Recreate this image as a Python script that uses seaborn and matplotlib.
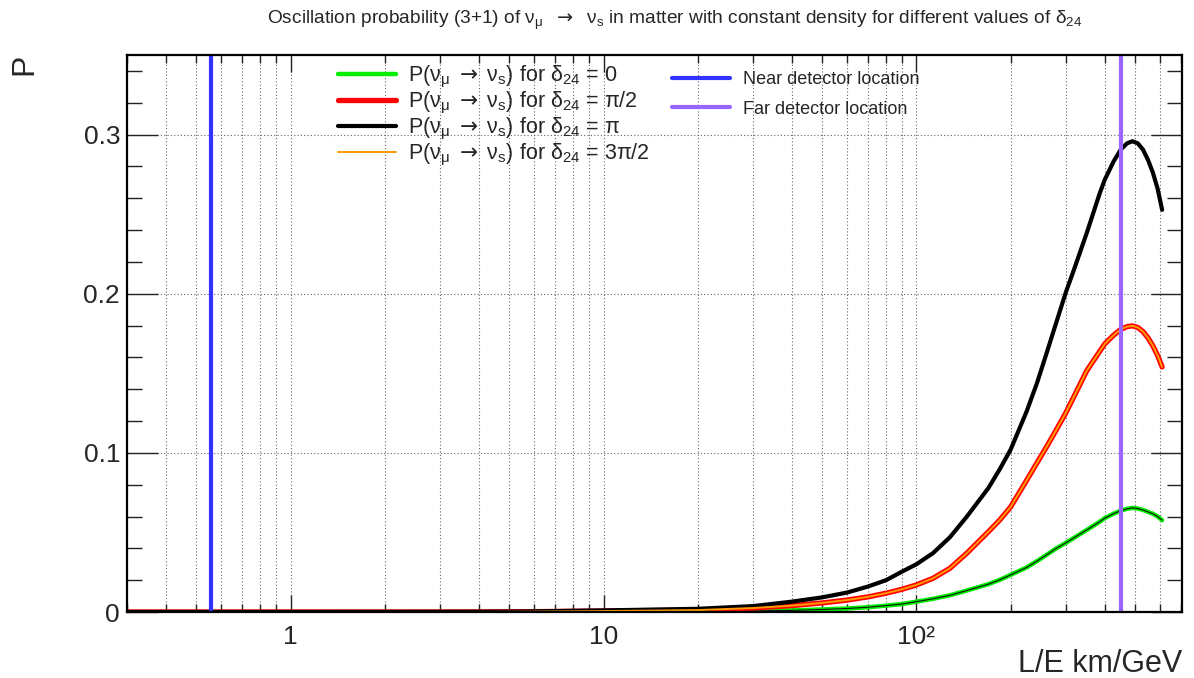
import numpy as np
import pandas as pd
import matplotlib
matplotlib.use("Agg")
import matplotlib.pyplot as plt
import seaborn as sns
from matplotlib.ticker import FixedLocator, FixedFormatter, NullFormatter
from matplotlib.lines import Line2D

# ---------------- data ----------------
le = [0.3, 1, 3, 5, 10, 20, 30, 40, 50, 60, 70, 80, 90, 100, 113, 128, 145, 170,
      185, 200, 225, 243, 261, 280, 300, 320, 350, 386, 400, 427, 450, 471, 490,
      510, 530, 550, 570, 590, 610]

p_delta0 = [0, 0, 0, 0, 0.0002, 0.0004, 0.0007, 0.0010, 0.0016, 0.0022, 0.0030,
            0.0040, 0.0050, 0.0065, 0.0083, 0.0105, 0.0135, 0.0175, 0.0203, 0.0233,
            0.0280, 0.0320, 0.0360, 0.0400, 0.0434, 0.0468, 0.0515, 0.0568, 0.0590,
            0.0618, 0.0637, 0.0648, 0.0654, 0.0650, 0.0641, 0.0629, 0.0617, 0.0600,
            0.0577]

p_deltapi2 = [0, 0, 0, 0.0001, 0.0006, 0.0012, 0.0025, 0.0040, 0.0057, 0.0075, 0.0095,
              0.0118, 0.0143, 0.0170, 0.0212, 0.0275, 0.0370, 0.0505, 0.0580, 0.0660,
              0.0827, 0.0938, 0.1040, 0.1145, 0.1250, 0.1360, 0.1515, 0.1640, 0.1685,
              0.1740, 0.1776, 0.1793, 0.1798, 0.1788, 0.1762, 0.1722, 0.1672, 0.1612,
              0.1540]

p_deltapi = [0, 0, 0.0001, 0.0002, 0.0010, 0.0020, 0.0037, 0.0065, 0.0092, 0.0122, 0.0160,
             0.0200, 0.0254, 0.0300, 0.0370, 0.0470, 0.0600, 0.0780, 0.0900, 0.1020,
             0.1260, 0.1440, 0.1630, 0.1820, 0.2006, 0.2160, 0.2380, 0.2635, 0.2717,
             0.2832, 0.2906, 0.2945, 0.2958, 0.2945, 0.2905, 0.2840, 0.2760, 0.2660,
             0.2527]

p_delta3pi2 = [0, 0, 0, 0.0001, 0.0006, 0.0012, 0.0025, 0.0040, 0.0057, 0.0075, 0.0095,
               0.0118, 0.0143, 0.0170, 0.0212, 0.0275, 0.0370, 0.0505, 0.0580, 0.0660,
               0.0827, 0.0938, 0.1040, 0.1145, 0.1250, 0.1360, 0.1515, 0.1640, 0.1685,
               0.1740, 0.1776, 0.1793, 0.1798, 0.1788, 0.1762, 0.1722, 0.1672, 0.1612,
               0.1540]

near_detector_le = 0.555
far_detector_le = 450

x_major = [1, 10, 100]
x_major_labels = ["1", "10", "10\u00b2"]
y_major = [0, 0.1, 0.2, 0.3]
y_major_labels = ["0", "0.1", "0.2", "0.3"]

_p = r"P($\mathrm{\nu_{\mu}}$ $\mathsf{\rightarrow}$ $\mathrm{\nu_{s}}$) for $\mathrm{\delta_{24}}$ = "
labels = [_p + "0", _p + r"$\mathrm{\pi}$/2", _p + r"$\mathrm{\pi}$", _p + r"3$\mathrm{\pi}$/2"]
det_labels = ["Near detector location", "Far detector location"]

title = (r"Oscillation probability (3+1) of $\mathrm{\nu_{\mu}}$  $\mathsf{\rightarrow}$  $\mathrm{\nu_{s}}$"
         r" in matter with constant density for different values of $\mathrm{\delta_{24}}$")

# ---------------- style ----------------
sns.set_theme(style="white")
plt.rcParams['font.family'] = ['Liberation Sans', 'DejaVu Sans']
plt.rcParams['mathtext.fontset'] = 'custom'
plt.rcParams['mathtext.rm'] = 'Liberation Sans'
plt.rcParams['mathtext.it'] = 'Liberation Sans:italic'
plt.rcParams['mathtext.bf'] = 'Liberation Sans:bold'
plt.rcParams['mathtext.sf'] = 'DejaVu Sans'

W, H = 1194, 678
fig = plt.figure(figsize=(W / 100, H / 100), dpi=100)
L, R, T, B = 127, 1182, 55, 612
ax = fig.add_axes([L / W, 1 - B / H, (R - L) / W, (B - T) / H])

df = pd.DataFrame({"le": le, "d0": p_delta0, "dpi2": p_deltapi2,
                   "dpi": p_deltapi, "d3pi2": p_delta3pi2})

green, red, black, orange = "#00ee00", "#ff0000", "#000000", "#ff9a00"
blue, purple = "#3333ff", "#9966ff"

sns.lineplot(data=df, x="le", y="d0", ax=ax, color=green, lw=3.2, sort=False)
sns.lineplot(data=df, x="le", y="d0", ax=ax, color="#111111", lw=0.8, sort=False)
sns.lineplot(data=df, x="le", y="dpi2", ax=ax, color=red, lw=3.8, sort=False)
sns.lineplot(data=df, x="le", y="dpi", ax=ax, color=black, lw=3.0, sort=False)
sns.lineplot(data=df, x="le", y="d3pi2", ax=ax, color=orange, lw=1.4, sort=False)

ax.axvline(near_detector_le, color=blue, lw=3.0)
ax.axvline(far_detector_le, color=purple, lw=3.0)

ax.set_xscale("log")
ax.set_xlim(0.3, 706)
ax.set_ylim(0, 0.35)
ax.set_xlabel("")
ax.set_ylabel("")

ax.xaxis.set_major_locator(FixedLocator(x_major))
ax.xaxis.set_major_formatter(FixedFormatter(x_major_labels))
minors = [m * 10.0 ** e for e in (-1, 0, 1, 2) for m in range(2, 10)]
ax.xaxis.set_minor_locator(FixedLocator([v for v in minors if 0.3 <= v <= 706]))
ax.xaxis.set_minor_formatter(NullFormatter())
ax.yaxis.set_major_locator(FixedLocator(y_major))
ax.yaxis.set_major_formatter(FixedFormatter(y_major_labels))
ax.yaxis.set_minor_locator(FixedLocator(np.arange(0.02, 0.35, 0.02)))

ax.grid(True, which="both", axis="x", ls=(0, (1, 2)), color="#666666", lw=0.8)
ax.grid(True, which="major", axis="y", ls=(0, (1, 2)), color="#666666", lw=0.8)
ax.set_axisbelow(True)

ax.tick_params(axis="x", which="major", direction="in", length=12.5, width=1.0,
               top=True, bottom=True, labelsize=19, pad=9, color="#222222")
ax.tick_params(axis="x", which="minor", direction="in", length=6, width=1.0,
               top=True, bottom=True, color="#222222")
ax.tick_params(axis="y", which="major", direction="in", length=22, width=1.0,
               left=True, right=True, labelsize=19, pad=5, color="#222222")
ax.tick_params(axis="y", which="minor", direction="in", length=11, width=1.0,
               left=True, right=True, color="#222222")
for s in ax.spines.values():
    s.set_visible(True)
    s.set_color("black")
    s.set_linewidth(1.6)

# legends
h1 = [Line2D([], [], color=green, lw=3.2), Line2D([], [], color=red, lw=3.8),
      Line2D([], [], color=black, lw=3.0), Line2D([], [], color=orange, lw=1.4)]
leg1 = ax.legend(h1, labels, loc="upper left",
                 bbox_to_anchor=((338 - L) / (R - L), (B - 64) / (B - T)),
                 frameon=False, fontsize=15.5, handlelength=2.7, handletextpad=0.55,
                 labelspacing=0.0, borderpad=0, borderaxespad=0)
ax.add_artist(leg1)
h2 = [Line2D([], [], color=blue, lw=3.0), Line2D([], [], color=purple, lw=3.0)]
ax.legend(h2, det_labels, loc="upper left",
          bbox_to_anchor=((672 - L) / (R - L), (B - 71) / (B - T)),
          frameon=False, fontsize=13, handlelength=3.2, handletextpad=0.75,
          labelspacing=0.7, borderpad=0, borderaxespad=0)

fig.text(675 / W, 1 - 20 / H, title, ha="center", va="center", fontsize=13.8)
fig.text(R / W, 1 - 672 / H, "L/E km/GeV", ha="right", va="baseline", fontsize=22)
fig.text(24 / W, 1 - 64 / H, "P", ha="center", va="center", rotation=90, fontsize=23)

fig.savefig("out.png", dpi=100)
